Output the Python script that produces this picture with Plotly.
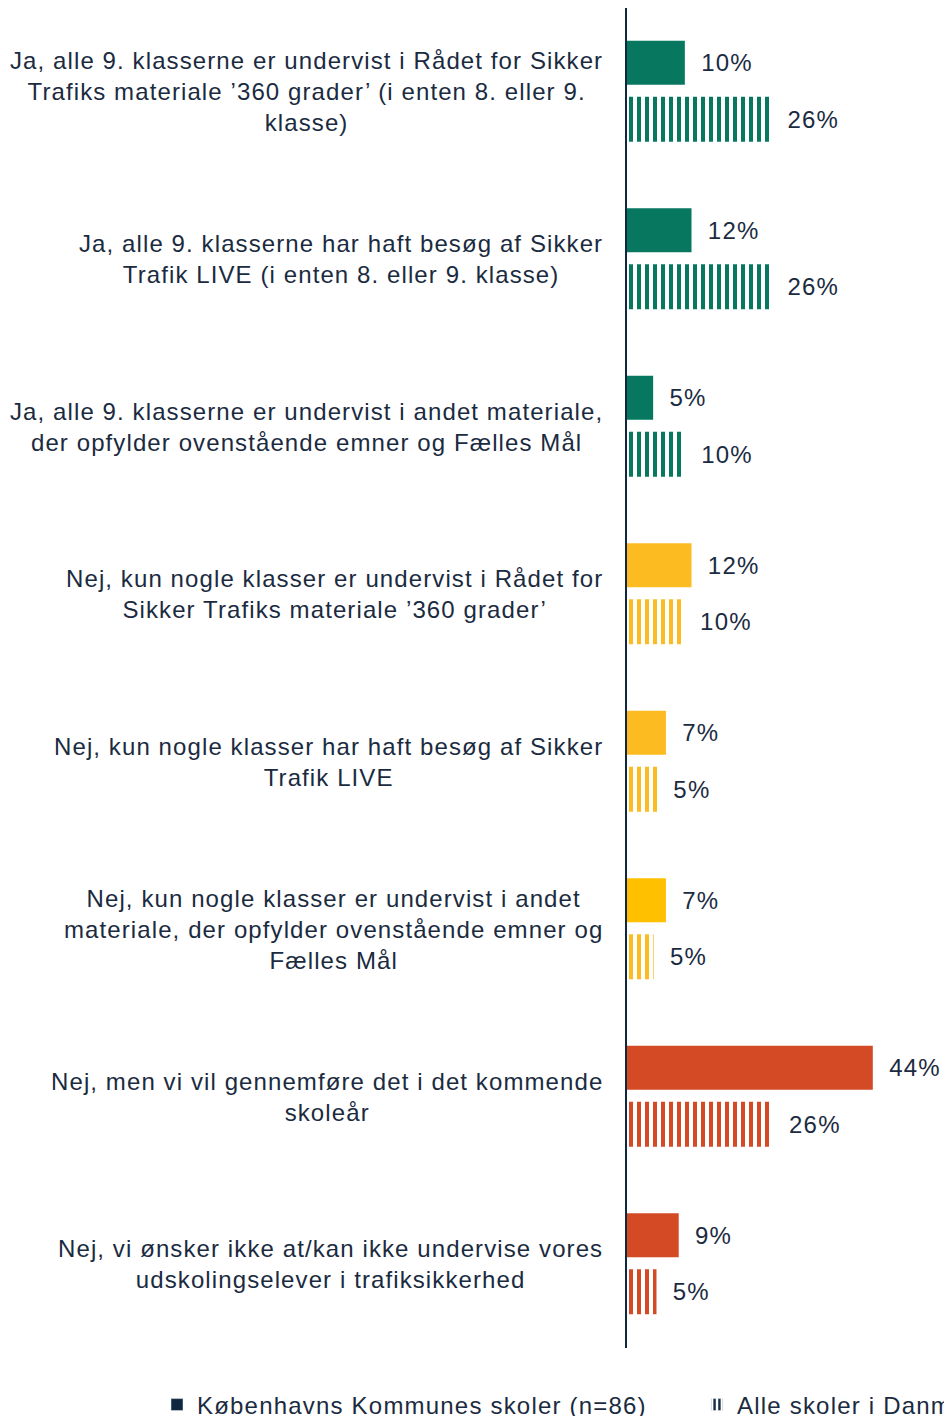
import plotly.graph_objects as go

categories = [
    "Ja, alle 9. klasserne er undervist i Rådet for Sikker<br>Trafiks materiale ’360 grader’ (i enten 8. eller 9.<br>klasse)",
    "Ja, alle 9. klasserne har haft besøg af Sikker<br>Trafik LIVE (i enten 8. eller 9. klasse)",
    "Ja, alle 9. klasserne er undervist i andet materiale,<br>der opfylder ovenstående emner og Fælles Mål",
    "Nej, kun nogle klasser er undervist i Rådet for<br>Sikker Trafiks materiale ’360 grader’",
    "Nej, kun nogle klasser har haft besøg af Sikker<br>Trafik LIVE",
    "Nej, kun nogle klasser er undervist i andet<br>materiale, der opfylder ovenstående emner og<br>Fælles Mål",
    "Nej, men vi vil gennemføre det i det kommende<br>skoleår",
    "Nej, vi ønsker ikke at/kan ikke undervise vores<br>udskolingselever i trafiksikkerhed",
]
kbh_values = [10.4, 11.6, 4.7, 11.6, 7.0, 7.0, 44.2, 9.3]
dk_values = [25.9, 25.9, 10.4, 10.2, 5.4, 4.8, 26.2, 5.3]
series_names = ["Københavns Kommunes skoler (n=86)", "Alle skoler i Danmark"]

GREEN = "#07785F"
YELLOW = "#FDBB22"
YELLOW2 = "#FFC000"
RED = "#D34A24"
kbh_colors = [GREEN, GREEN, GREEN, YELLOW, YELLOW, YELLOW2, RED, RED]
dk_colors = [GREEN, GREEN, GREEN, YELLOW, YELLOW, YELLOW, RED, RED]

TEXT = "#1B2B3F"
AXIS = "#10283F"
FONT = "Liberation Sans, Arial, sans-serif"
FS = 24
NB = "\u00a0\u00a0"


def spaced(s, ls=1.1):
    return "<br>".join('<span style="letter-spacing:%.2fpx">%s</span>' % (ls, part)
                       for part in s.split("<br>"))


fig = go.Figure()
fig.add_trace(go.Bar(
    x=kbh_values, y=categories, orientation="h", name=series_names[0],
    marker=dict(color=kbh_colors, line=dict(width=0)),
    offset=-0.305, width=0.263,
    texttemplate=NB + '<span style="letter-spacing:1.2px">%{x:.0f}%</span>',
    textposition="outside", constraintext="none",
    textfont=dict(family=FONT, size=FS, color=TEXT), cliponaxis=False,
    showlegend=False, hoverinfo="skip",
))
fig.add_trace(go.Bar(
    x=dk_values, y=categories, orientation="h", name=series_names[1],
    marker=dict(color=dk_colors, line=dict(width=0),
                pattern=dict(shape="|", size=8, solidity=0.5, fillmode="replace", bgcolor="white")),
    offset=0.03, width=0.268,
    texttemplate=NB + '<span style="letter-spacing:1.2px">%{x:.0f}%</span>',
    textposition="outside", constraintext="none",
    textfont=dict(family=FONT, size=FS, color=TEXT), cliponaxis=False,
    showlegend=False, hoverinfo="skip",
))
# legend-only entries
fig.add_trace(go.Bar(x=[None], y=[None], orientation="h", name=spaced(series_names[0], 1.2),
                     marker=dict(color=AXIS), legend="legend", showlegend=True))
fig.add_trace(go.Bar(x=[None], y=[None], orientation="h", name=spaced(series_names[1], 1.2),
                     marker=dict(color=AXIS, pattern=dict(shape="|", size=6, solidity=0.5,
                                                          fillmode="replace", bgcolor="white")),
                     legend="legend2", showlegend=True))

for c in categories:
    fig.add_annotation(x=0, xref="paper", y=c, yref="y", text=spaced(c), showarrow=False,
                       xanchor="right", yanchor="middle", align="center", xshift=-22,
                       font=dict(family=FONT, size=FS, color=TEXT))

W, H = 944, 1416
legend_common = dict(orientation="h", xref="container", yref="container",
                     xanchor="left", yanchor="middle", y=1 - 1405 / H,
                     font=dict(family=FONT, size=FS, color=TEXT),
                     bgcolor="rgba(0,0,0,0)", borderwidth=0)
fig.update_layout(
    width=W, height=H,
    barmode="overlay",
    paper_bgcolor="white", plot_bgcolor="white",
    margin=dict(l=627, r=0, t=8, b=68, autoexpand=False),
    font=dict(family=FONT, size=FS, color=TEXT),
    xaxis=dict(range=[0, 57.0], showgrid=False, zeroline=False, showticklabels=False,
               showline=False, fixedrange=True),
    yaxis=dict(type="category", categoryorder="array", categoryarray=categories,
               autorange="reversed", showgrid=False, zeroline=False, showticklabels=False,
               showline=True, linewidth=2, linecolor=AXIS, ticks=""),
    legend=dict(x=157 / W, **legend_common),
    legend2=dict(x=697 / W, **legend_common),
)

fig.write_html("out.html", config={"displayModeBar": False},
               post_script="document.body.style.margin='0';document.body.style.overflow='hidden';")
